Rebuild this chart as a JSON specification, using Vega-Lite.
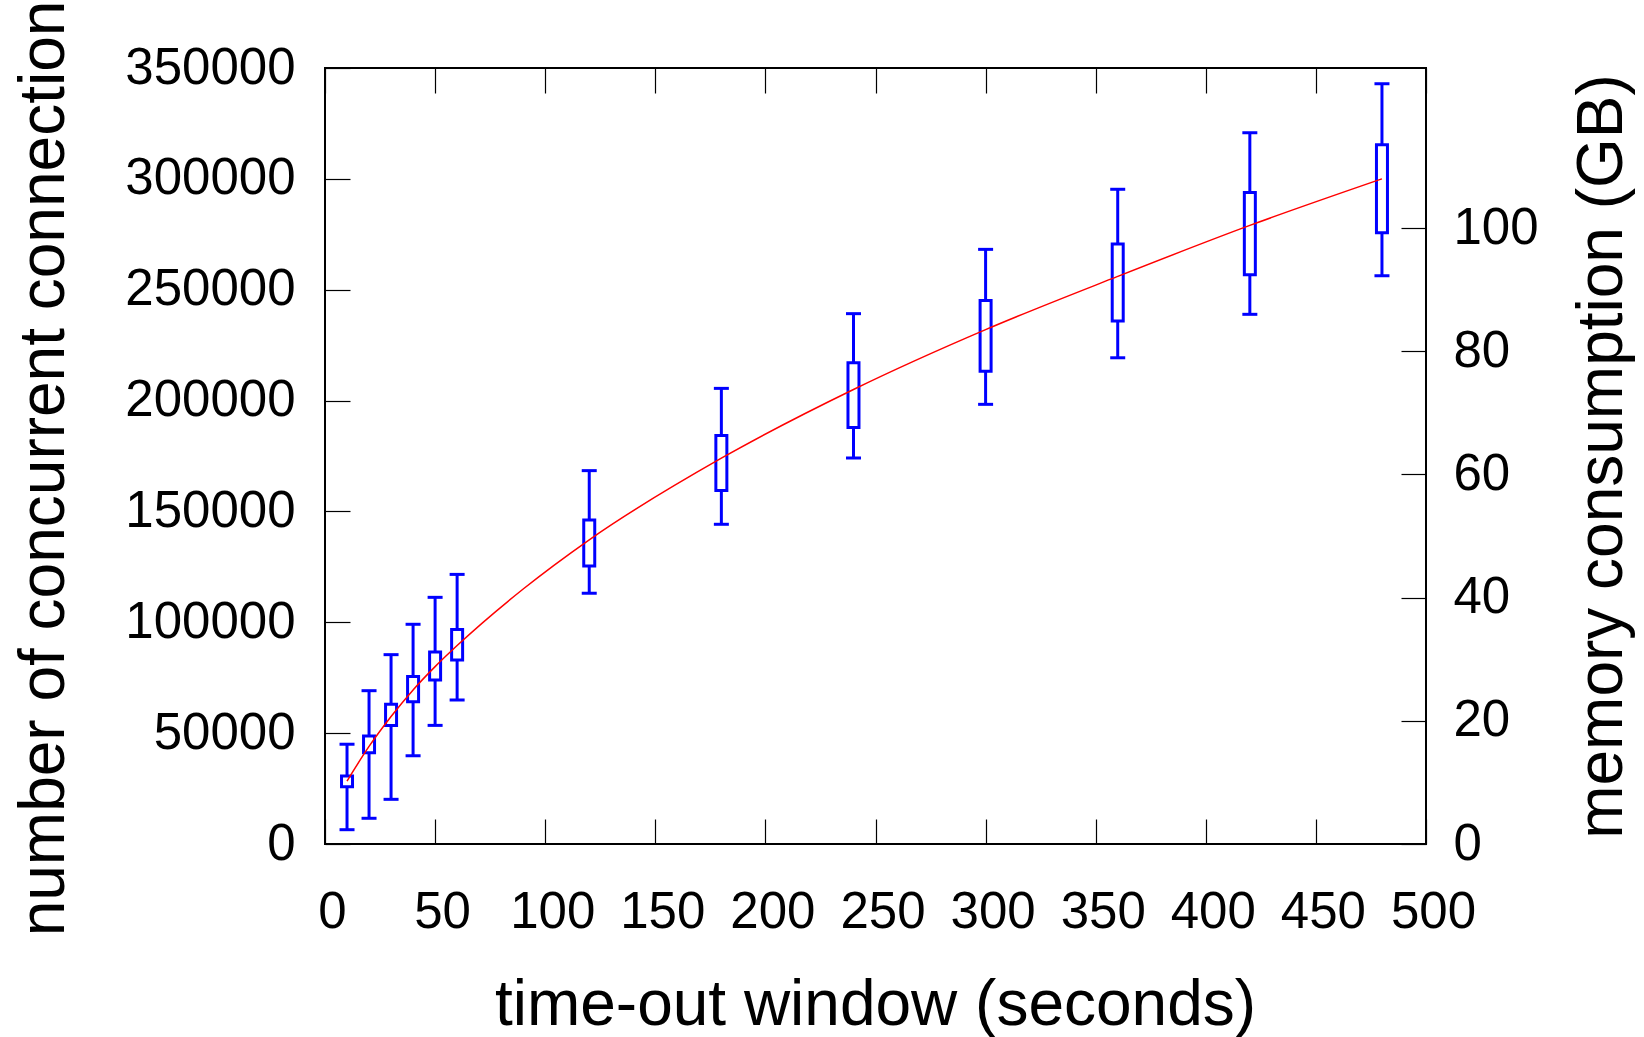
{
  "$schema": "https://vega.github.io/schema/vega-lite/v6.json",
  "width": 1101,
  "height": 776,
  "autosize": {"type": "none"},
  "padding": {"left": 325, "top": 68, "right": 218, "bottom": 193},
  "background": "white",
  "config": {
    "view": {"stroke": "#000000", "strokeWidth": 2},
    "font": "Liberation Sans",
    "axis": {
      "labelFont": "Liberation Sans",
      "titleFont": "Liberation Sans",
      "labelFontSize": 51,
      "titleFontSize": 64,
      "titleFontWeight": "normal",
      "labelColor": "#000000",
      "titleColor": "#000000",
      "tickColor": "#000000",
      "tickWidth": 1.2,
      "tickSize": -25,
      "labelOverlap": false,
      "labelFlush": false,
      "domain": false,
      "grid": false
    }
  },
  "datasets": {
    "boxes": [
      {"t": 10, "low": 6450, "q1": 25850, "q3": 30670, "high": 45000},
      {"t": 20, "low": 11600, "q1": 41200, "q3": 48700, "high": 69150},
      {"t": 30, "low": 20150, "q1": 53500, "q3": 63000, "high": 85400},
      {"t": 40, "low": 39800, "q1": 64200, "q3": 75500, "high": 99100},
      {"t": 50, "low": 53500, "q1": 74000, "q3": 86600, "high": 111250},
      {"t": 60, "low": 64950, "q1": 83000, "q3": 96800, "high": 121600},
      {"t": 120, "low": 113100, "q1": 125400, "q3": 146100, "high": 168400},
      {"t": 180, "low": 144200, "q1": 159400, "q3": 184300, "high": 205500},
      {"t": 240, "low": 174100, "q1": 187900, "q3": 217100, "high": 239200},
      {"t": 300, "low": 198300, "q1": 213200, "q3": 245100, "high": 268200},
      {"t": 360, "low": 219300, "q1": 235900, "q3": 270600, "high": 295300},
      {"t": 420, "low": 238900, "q1": 256800, "q3": 293900, "high": 320800},
      {"t": 480, "low": 256300, "q1": 275700, "q3": 315400, "high": 342900}
    ],
    "fit": [
      {"t": 10, "conn": 28400},
      {"t": 20, "conn": 44000},
      {"t": 30, "conn": 57500},
      {"t": 40, "conn": 69500},
      {"t": 50, "conn": 80000},
      {"t": 60, "conn": 89500},
      {"t": 90, "conn": 115000},
      {"t": 120, "conn": 137200},
      {"t": 180, "conn": 174000},
      {"t": 240, "conn": 205000},
      {"t": 300, "conn": 232000},
      {"t": 360, "conn": 256000},
      {"t": 420, "conn": 279000},
      {"t": 480, "conn": 300000}
    ]
  },
  "resolve": {"scale": {"y": "independent"}, "axis": {"x": "independent", "y": "independent"}},
  "layer": [
    {
      "data": {"name": "boxes"},
      "mark": {"type": "rule", "color": "#0000ff", "strokeWidth": 3},
      "encoding": {
        "x": {"field": "t", "type": "quantitative", "scale": {"domain": [0, 500], "nice": false, "zero": false, "padding": 0},
          "axis": {"orient": "bottom", "values": [0, 50, 100, 150, 200, 250, 300, 350, 400, 450, 500], "labelPadding": 68, "labelOffset": 7, "title": "time-out window (seconds)", "titleBaseline": "alphabetic", "titleY": 180, "titleX": 550}},
        "y": {"field": "low", "type": "quantitative", "scale": {"domain": [0, 350000], "nice": false},
          "axis": {"orient": "left", "values": [0, 50000, 100000, 150000, 200000, 250000, 300000, 350000], "format": "d", "labelPadding": 55, "title": "number of concurrent connection", "titleAngle": 270, "titleBaseline": "alphabetic", "titleX": -262, "titleY": 400}},
        "y2": {"field": "q1"}
      }
    },
    {
      "data": {"name": "boxes"},
      "mark": {"type": "rule", "color": "#0000ff", "strokeWidth": 3},
      "encoding": {
        "x": {"field": "t", "type": "quantitative", "scale": {"domain": [0, 500], "nice": false, "zero": false, "padding": 0}, "axis": null},
        "y": {"field": "q3", "type": "quantitative", "scale": {"domain": [0, 350000], "nice": false}, "axis": null},
        "y2": {"field": "high"}
      }
    },
    {
      "data": {"name": "boxes"},
      "mark": {"type": "tick", "orient": "horizontal", "color": "#0000ff", "size": 15, "thickness": 3, "opacity": 1},
      "encoding": {
        "x": {"field": "t", "type": "quantitative", "scale": {"domain": [0, 500], "nice": false, "zero": false, "padding": 0}, "axis": null},
        "y": {"field": "low", "type": "quantitative", "scale": {"domain": [0, 350000], "nice": false}, "axis": null}
      }
    },
    {
      "data": {"name": "boxes"},
      "mark": {"type": "tick", "orient": "horizontal", "color": "#0000ff", "size": 15, "thickness": 3, "opacity": 1},
      "encoding": {
        "x": {"field": "t", "type": "quantitative", "scale": {"domain": [0, 500], "nice": false, "zero": false, "padding": 0}, "axis": null},
        "y": {"field": "high", "type": "quantitative", "scale": {"domain": [0, 350000], "nice": false}, "axis": null}
      }
    },
    {
      "data": {"name": "boxes"},
      "mark": {"type": "bar", "size": 11, "fillOpacity": 0, "stroke": "#0000ff", "strokeWidth": 3},
      "encoding": {
        "x": {"field": "t", "type": "quantitative", "scale": {"domain": [0, 500], "nice": false, "zero": false, "padding": 0}, "axis": null},
        "y": {"field": "q1", "type": "quantitative", "scale": {"domain": [0, 350000], "nice": false}, "axis": null},
        "y2": {"field": "q3"}
      }
    },
    {
      "data": {"name": "fit"},
      "mark": {"type": "line", "color": "#ff0000", "strokeWidth": 1.5, "interpolate": "monotone"},
      "encoding": {
        "x": {"field": "t", "type": "quantitative", "scale": {"domain": [0, 500], "nice": false, "zero": false, "padding": 0}, "axis": null},
        "y": {"field": "conn", "type": "quantitative", "scale": {"domain": [0, 350000], "nice": false}, "axis": null}
      }
    },
    {
      "data": {"name": "boxes"},
      "mark": {"type": "tick", "opacity": 0},
      "encoding": {
        "x": {"field": "t", "type": "quantitative", "scale": {"domain": [0, 500], "nice": false, "zero": false, "padding": 0},
          "axis": {"orient": "top", "values": [0, 50, 100, 150, 200, 250, 300, 350, 400, 450, 500], "labels": false, "title": null}}
      }
    },
    {
      "data": {"name": "boxes"},
      "mark": {"type": "point", "opacity": 0},
      "encoding": {
        "y": {"field": "q1", "type": "quantitative", "scale": {"domain": [0, 126], "nice": false, "zero": false},
          "axis": {"orient": "right", "values": [0, 20, 40, 60, 80, 100], "labelPadding": 52, "title": "memory consumption (GB)", "titleAngle": 270, "titleBaseline": "alphabetic", "titleX": 195, "titleY": 388}}
      }
    }
  ]
}
